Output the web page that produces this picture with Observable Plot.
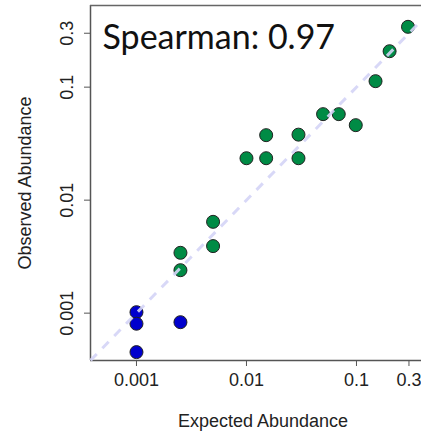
<!DOCTYPE html>
<html><head><meta charset="utf-8">
<script src="https://cdn.jsdelivr.net/npm/d3@7"></script>
<script src="https://cdn.jsdelivr.net/npm/@observablehq/plot@0.6"></script>
<style>body{margin:0;background:#fff}</style>
</head><body><div id="chart"></div>
<script>
// Green group (expected, observed)
const greenExpected = [0.294, 0.200, 0.149, 0.0497, 0.069, 0.0985, 0.0151, 0.0297, 0.0100, 0.0151, 0.0297, 0.00497, 0.00497, 0.00251, 0.00251];
const greenObserved = [0.342, 0.208, 0.113, 0.0577, 0.0577, 0.0461, 0.0376, 0.0380, 0.0235, 0.0235, 0.0235, 0.00643, 0.00392, 0.00342, 0.00240];
// Blue group
const blueExpected = [0.001, 0.001, 0.00251, 0.001];
const blueObserved = [0.00102, 0.000806, 0.000832, 0.000452];
const tickValues = [0.001, 0.01, 0.1, 0.3];
const tickLabels = ["0.001", "0.01", "0.1", "0.3"];
const xDomain = [3.82e-4, 0.39];
const yDomain = [3.81e-4, 0.528];
const corr = "Spearman: 0.97";

const green = greenExpected.map((x, i) => ({x, y: greenObserved[i]}));
const blue = blueExpected.map((x, i) => ({x, y: blueObserved[i]}));
const lab = new Map(tickValues.map((v, i) => [v, tickLabels[i]]));

const font = "Liberation Sans, Arial, sans-serif";
const chart = Plot.plot({
  width: 421, height: 434,
  marginLeft: 90, marginRight: 0, marginTop: 5, marginBottom: 74,
  style: {fontFamily: font, fontSize: "18px", color: "#222", background: "#fff", overflow: "visible"},
  x: {type: "log", domain: xDomain, axis: null},
  y: {type: "log", domain: yDomain},
  marks: [
    Plot.ruleX(tickValues, {x: d => d, y1: () => yDomain[0], y2: () => yDomain[0], insetBottom: -6, stroke: "#555", strokeWidth: 1}),
    Plot.text(tickValues, {x: d => d, y: () => yDomain[0], text: d => lab.get(d), dy: 20, fontSize: 18, fill: "#222"}),
    Plot.axisY(tickValues, {tickSize: 6, tickPadding: 12, tickRotate: -90, tickFormat: d => lab.get(d), label: null, stroke: "#555", fill: "#222", fontSize: 18}),
    Plot.ruleX([xDomain[0]], {stroke: "#555", strokeWidth: 1.5}),
    Plot.ruleY([yDomain[0]], {stroke: "#555", strokeWidth: 1.5}),
    Plot.ruleY([yDomain[1]], {stroke: "#666", strokeWidth: 1.5}),
    Plot.dot(green, {x: "x", y: "y", r: 6.5, fill: "#008B45", stroke: "#222", strokeWidth: 1}),
    Plot.dot(blue, {x: "x", y: "y", r: 6.5, fill: "#0000CD", stroke: "#222", strokeWidth: 1}),
    Plot.link([0], {x1: () => xDomain[0], y1: () => xDomain[0], x2: () => xDomain[1], y2: () => xDomain[1], stroke: "#d4d4f6", strokeWidth: 3, strokeDasharray: "9,8", strokeOpacity: 0.9}),
    Plot.text([corr], {frameAnchor: "top-left", dx: 12, dy: 19, lineAnchor: "top", fontSize: 34, fontFamily: "Lato, Open Sans, sans-serif", fill: "#111"}),
    Plot.text(["Expected Abundance"], {frameAnchor: "bottom", dx: 7, dy: 66, fontSize: 18, fill: "#222"}),
    Plot.text(["Observed Abundance"], {frameAnchor: "left", dx: -65, rotate: -90, textAnchor: "middle", fontSize: 18, fill: "#222"})
  ]
});
document.getElementById("chart").appendChild(chart);
</script>
</body></html>
